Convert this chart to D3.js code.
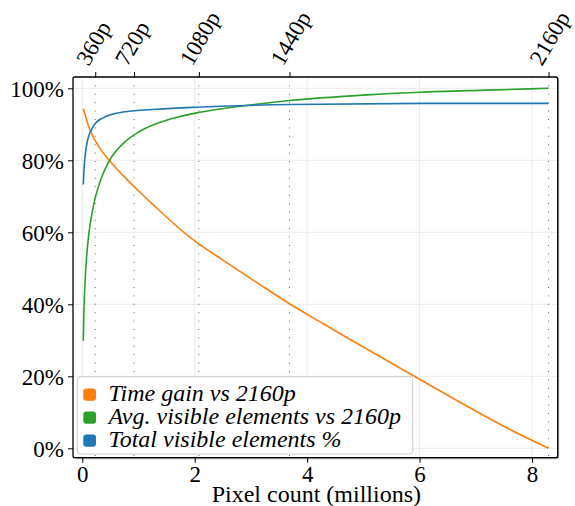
<!DOCTYPE html>
<html>
<head>
<meta charset="utf-8">
<script src="https://cdn.jsdelivr.net/npm/d3@7"></script>
<style>
  body { margin: 0; background: #fff; }
  text { font-family: "Liberation Serif", "Times New Roman", Times, serif; fill: #000; }
</style>
</head>
<body>
<svg id="chart" width="575" height="506"></svg>
<script>
// resolutions on the top axis (pixel count in millions)
const resLabels = ['360p', '720p', '1080p', '1440p', '2160p'];
const resPixels = [0.2304, 0.9216, 2.0736, 3.6864, 8.2944];

const xTicks = [0, 2, 4, 6, 8];
const yTicks = [0, 0.2, 0.4, 0.6, 0.8, 1.0];

// Time gain vs 2160p
const timePixels = [0.018, 0.132, 0.31, 0.487, 0.724, 1.021, 1.258, 1.916, 2.508, 3.102, 3.671, 4.287, 4.881, 5.473, 6.007, 6.718, 7.549, 8.2944];
const timeGain = [0.943, 0.886, 0.834, 0.799, 0.758, 0.712, 0.677, 0.586, 0.522, 0.461, 0.403, 0.346, 0.292, 0.239, 0.191, 0.128, 0.057, 0.0];

// Avg. visible elements vs 2160p
const avgPixels = [0.018, 0.03, 0.05, 0.08, 0.12, 0.2, 0.3, 0.487, 0.75, 1.02, 1.6, 2.117, 2.95, 3.69, 5.0, 6.0, 7.2, 8.2944];
const avgVisible = [0.299, 0.385, 0.465, 0.538, 0.600, 0.675, 0.733, 0.800, 0.850, 0.880, 0.916, 0.934, 0.953, 0.966, 0.981, 0.989, 0.995, 1.0];

// Total visible elements %
const totalPixels = [0.018, 0.03, 0.043, 0.07, 0.101, 0.19, 0.368, 0.724, 1.316, 2.117, 3.69, 6.06, 8.2944];
const totalVisible = [0.733, 0.772, 0.800, 0.835, 0.860, 0.8925, 0.918, 0.934, 0.942, 0.948, 0.955, 0.958, 0.958];

const colors = { time: '#ff7f0e', avg: '#2ca02c', total: '#1f77b4' };
const legendNames = ['Time gain vs 2160p', 'Avg. visible elements vs 2160p', 'Total visible elements %'];
const legendColors = [colors.time, colors.avg, colors.total];

const svg = d3.select('#chart');
const box = { left: 73, right: 557.7, top: 77, bottom: 457.7 };

const x = d3.scaleLinear().domain([-0.165, 8.457]).range([box.left, box.right]);
const y = d3.scaleLinear().domain([-0.0261, 1.0314]).range([box.bottom, box.top]);

// frame shadow + background
svg.append('rect')
  .attr('x', box.left + 1.5).attr('y', box.top + 1.5)
  .attr('width', box.right - box.left).attr('height', box.bottom - box.top)
  .attr('rx', 2).attr('fill', '#b0b0b0');
svg.append('rect')
  .attr('x', box.left).attr('y', box.top)
  .attr('width', box.right - box.left).attr('height', box.bottom - box.top)
  .attr('rx', 2).attr('fill', '#fff');

// grid
const grid = svg.append('g').attr('stroke', '#ebebeb').attr('stroke-width', 1);
grid.selectAll('.gx').data(xTicks).enter().append('line')
  .attr('x1', d => x(d)).attr('x2', d => x(d))
  .attr('y1', box.top).attr('y2', box.bottom);
grid.selectAll('.gy').data(yTicks).enter().append('line')
  .attr('y1', d => y(d)).attr('y2', d => y(d))
  .attr('x1', box.left).attr('x2', box.right);

// dotted resolution lines
svg.append('g').selectAll('line').data(resPixels).enter().append('line')
  .attr('x1', d => x(d)).attr('x2', d => x(d))
  .attr('y1', box.top).attr('y2', box.bottom)
  .attr('stroke', '#666').attr('stroke-width', 1)
  .attr('stroke-dasharray', '1,7.4');

// series
function drawLine(xs, ys, color) {
  const data = xs.map((d, i) => [d, ys[i]]);
  const line = d3.line()
    .x(d => x(d[0]))
    .y(d => y(d[1]))
    .curve(d3.curveMonotoneX);
  svg.append('path')
    .datum(data)
    .attr('d', line)
    .attr('fill', 'none')
    .attr('stroke', color)
    .attr('stroke-width', 1.6);
}
drawLine(timePixels, timeGain, colors.time);
drawLine(avgPixels, avgVisible, colors.avg);
drawLine(totalPixels, totalVisible, colors.total);

// frame
svg.append('rect')
  .attr('x', box.left).attr('y', box.top)
  .attr('width', box.right - box.left).attr('height', box.bottom - box.top)
  .attr('rx', 2).attr('fill', 'none')
  .attr('stroke', '#000').attr('stroke-width', 1.3);

// axes
const fmtPct = d => Math.round(d * 100) + '%';
const yAxis = svg.append('g')
  .attr('transform', 'translate(' + box.left + ',0)')
  .call(d3.axisLeft(y).tickValues(yTicks).tickFormat(fmtPct).tickSize(5).tickPadding(4));
const xAxis = svg.append('g')
  .attr('transform', 'translate(0,' + box.bottom + ')')
  .call(d3.axisBottom(x).tickValues(xTicks).tickFormat(d3.format('d')).tickSize(5).tickPadding(3));
const topAxis = svg.append('g')
  .attr('transform', 'translate(0,' + box.top + ')')
  .call(d3.axisTop(x).tickValues(resPixels).tickFormat((d, i) => resLabels[i]).tickSize(5));

[yAxis, xAxis, topAxis].forEach(a => {
  a.attr('font-family', null);
  a.select('.domain').remove();
  a.selectAll('line').attr('stroke', '#000').attr('stroke-width', 1);
  a.selectAll('text').attr('font-size', 23);
});
yAxis.selectAll('text').attr('dy', '0.34em');
xAxis.selectAll('text').attr('dy', '0.72em');
topAxis.selectAll('text')
  .attr('text-anchor', 'start')
  .attr('dy', 0)
  .attr('y', 0)
  .attr('transform', 'translate(-7,-10) rotate(-60)');

// x label
svg.append('text')
  .attr('x', (box.left + box.right) / 2 + 1)
  .attr('y', 502)
  .attr('text-anchor', 'middle')
  .attr('font-size', 24)
  .text('Pixel count (millions)');

// legend
const legend = svg.append('g');
legend.append('rect')
  .attr('x', 77.3).attr('y', 376.7)
  .attr('width', 335.4).attr('height', 77.3)
  .attr('rx', 3)
  .attr('fill', '#fff').attr('fill-opacity', 0.9)
  .attr('stroke', '#cccccc').attr('stroke-width', 1);
const items = legend.selectAll('g.item').data(legendNames).enter().append('g')
  .attr('class', 'item')
  .attr('transform', (d, i) => 'translate(0,' + (400.8 + i * 23) + ')');
items.append('rect')
  .attr('x', 83.3).attr('y', -12.3)
  .attr('width', 12.7).attr('height', 12.3)
  .attr('rx', 3)
  .attr('fill', (d, i) => legendColors[i]);
items.append('text')
  .attr('x', 108.5)
  .attr('y', 0)
  .attr('font-size', 24)
  .attr('font-style', 'italic')
  .text(d => d);
</script>
</body>
</html>
